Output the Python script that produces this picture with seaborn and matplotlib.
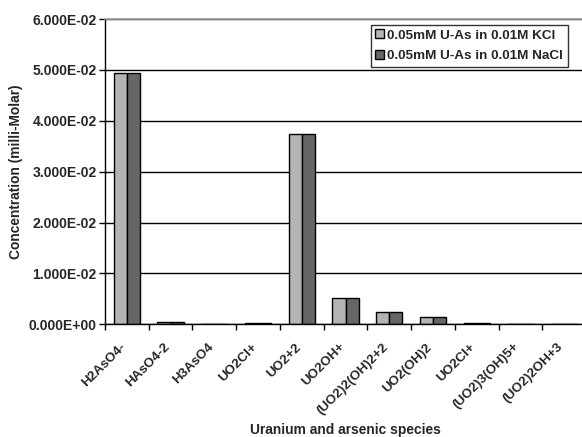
import numpy as np
import pandas as pd
import seaborn as sns
import matplotlib
matplotlib.use("Agg")
import matplotlib.pyplot as plt
from matplotlib.ticker import FormatStrFormatter

# data
species = ["H2AsO4-", "HAsO4-2", "H3AsO4", "UO2Cl+", "UO2+2", "UO2OH+",
           "(UO2)2(OH)2+2", "UO2(OH)2", "UO2Cl+", "(UO2)3(OH)5+", "(UO2)2OH+3"]
kcl = [0.0494, 0.0004, 0.0001, 0.0003, 0.0374, 0.0052, 0.0024, 0.0015, 0.0003, 0.0001, 0.0001]
nacl = [0.0494, 0.0004, 0.0001, 0.0003, 0.0374, 0.0052, 0.0024, 0.0015, 0.0003, 0.0001, 0.0001]
series = ["0.05mM U-As in 0.01M KCl", "0.05mM U-As in 0.01M NaCl"]
colors = ["#b4b4b4", "#666666"]

# long table, species index keeps the two UO2Cl+ apart
idx = list(range(len(species)))
df = pd.DataFrame({
    "idx": idx * 2,
    "conc": kcl + nacl,
    "series": [series[0]] * len(idx) + [series[1]] * len(idx),
})

sns.set_style("white")
plt.rcParams["font.family"] = ["Liberation Sans", "DejaVu Sans"]
plt.rcParams["font.weight"] = "bold"

fig = plt.figure(figsize=(5.82, 4.37), dpi=100)
ax = fig.add_axes([0.1804, 0.2579, 0.8265, 0.6986])

sns.barplot(data=df, x="idx", y="conc", hue="series", palette=colors,
            width=0.6, gap=0, edgecolor="black", linewidth=1, ax=ax)

ax.set_ylim(0, 0.06)
ax.set_xlim(-0.5, len(species) - 0.5)
ax.set_yticks(np.arange(0, 0.0601, 0.01))
ax.yaxis.set_major_formatter(FormatStrFormatter("%.3E"))
ax.yaxis.grid(True, color="black", linewidth=1)
ax.set_axisbelow(True)

# ticks between categories, labels near centres (nudged left like Excel)
ax.set_xticks(np.arange(-0.5, len(species), 1.0))
ax.set_xticklabels([])
ax.set_xticks(np.array(idx) - 0.16, minor=True)
ax.set_xticklabels(species, minor=True, rotation=45, ha="right", va="top",
                   rotation_mode="anchor", fontsize=9.6, fontweight="bold")
ax.tick_params(axis="x", which="minor", length=0, pad=12)
ax.tick_params(axis="x", which="major", direction="out", length=4, width=1,
               color="black", bottom=True)
ax.tick_params(axis="y", direction="out", length=4, width=1, color="black",
               left=True, labelsize=10, pad=2)
for t in ax.get_yticklabels():
    t.set_fontweight("bold")

for s in ["left", "bottom"]:
    ax.spines[s].set_color("black")
    ax.spines[s].set_linewidth(1)
ax.spines["top"].set_color("#a0a0a0")
ax.spines["top"].set_linewidth(1.2)
ax.spines["right"].set_visible(False)

ax.set_xlabel("Uranium and arsenic species", fontsize=9.9, fontweight="bold")
ax.set_ylabel("Concentration (milli-Molar)", fontsize=9.9, fontweight="bold", labelpad=4)
ax.xaxis.set_label_coords(345.5 / 582, 0, transform=fig.transFigure)
ax.xaxis.label.set_va("bottom")

leg = ax.legend(loc="upper right", bbox_to_anchor=(568 / 582, 1 - 24.7 / 437),
                bbox_transform=fig.transFigure, borderaxespad=0, fancybox=False,
                frameon=True, edgecolor="black", fontsize=9.7, handlelength=0.65,
                handleheight=0.65, handletextpad=0.25, labelspacing=0.6,
                borderpad=0.35, title=None)
leg.get_frame().set_linewidth(1)
for t in leg.get_texts():
    t.set_fontweight("bold")

fig.savefig("out.png", dpi=100)
